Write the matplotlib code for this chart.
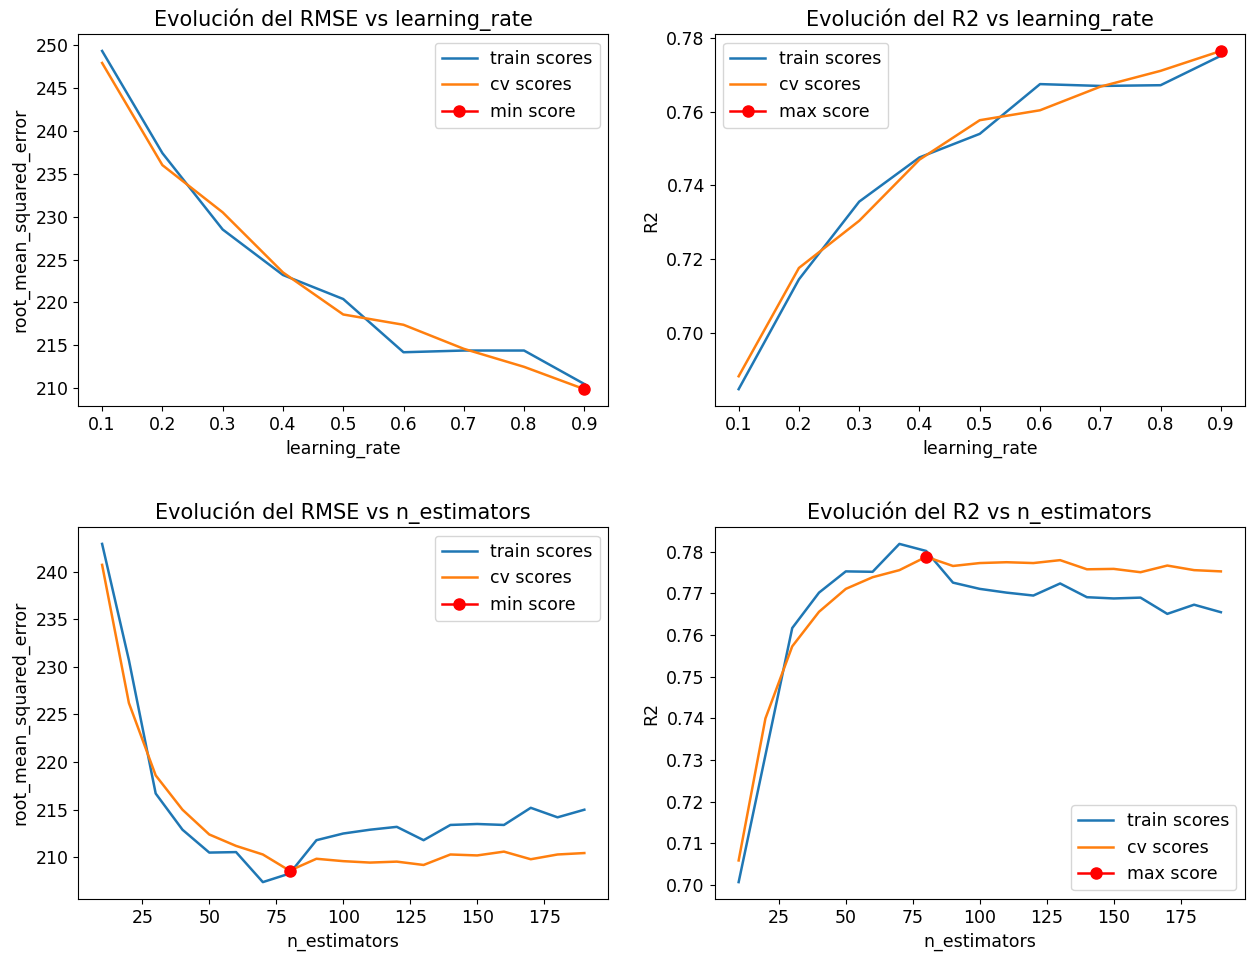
import matplotlib
matplotlib.use("Agg")
import matplotlib.pyplot as plt
import numpy as np

# resultados de la búsqueda de hiperparámetros
learning_rates = [0.1, 0.2, 0.3, 0.4, 0.5, 0.6, 0.7, 0.8, 0.9]
rmse_train_lr = [249.3, 237.4, 228.5, 223.2, 220.4, 214.2, 214.4, 214.4, 210.5]
rmse_cv_lr = [247.9, 236.0, 230.5, 223.5, 218.6, 217.4, 214.6, 212.5, 209.9]
r2_train_lr = [0.6847, 0.7145, 0.7356, 0.7476, 0.7540, 0.7675, 0.7670, 0.7672, 0.7752]
r2_cv_lr = [0.6882, 0.7176, 0.7304, 0.7470, 0.7577, 0.7604, 0.7668, 0.7711, 0.7765]

n_estimators = [10, 20, 30, 40, 50, 60, 70, 80, 90, 100,
                110, 120, 130, 140, 150, 160, 170, 180, 190]
rmse_train_ne = [242.9, 230.7, 216.7, 212.9, 210.5, 210.55, 207.4, 208.3, 211.8, 212.5,
                 212.9, 213.2, 211.8, 213.4, 213.5, 213.4, 215.2, 214.2, 215.0]
rmse_cv_ne = [240.7, 226.2, 218.6, 215.0, 212.4, 211.2, 210.3, 208.6, 209.85, 209.6,
              209.45, 209.55, 209.2, 210.3, 210.2, 210.6, 209.8, 210.3, 210.45]
r2_train_ne = [0.7007, 0.7312, 0.7617, 0.7702, 0.7753, 0.7752, 0.7819, 0.7802, 0.7726, 0.7711,
               0.7702, 0.7695, 0.7724, 0.7691, 0.7688, 0.7690, 0.7651, 0.7673, 0.7655]
r2_cv_ne = [0.7059, 0.7400, 0.7573, 0.7656, 0.7711, 0.7739, 0.7756, 0.7788, 0.7766, 0.7773,
            0.7775, 0.7773, 0.7780, 0.7758, 0.7759, 0.7751, 0.7767, 0.7756, 0.7753]


def plot_scores(ax, x, train, cv, best, title, xlabel, ylabel, loc):
    ax.plot(x, train, lw=1.8, label='train scores')
    ax.plot(x, cv, lw=1.8, label='cv scores')
    i = best(cv)
    name = 'min score' if best is np.argmin else 'max score'
    ax.plot(x[i], cv[i], marker='o', color='red', markersize=8, lw=1.8, label=name)
    ax.set_title(title, fontsize=15)
    ax.set_xlabel(xlabel, fontsize=12.5)
    ax.set_ylabel(ylabel, fontsize=12.5)
    ax.tick_params(labelsize=12.5)
    ax.legend(loc=loc, fontsize=12.5)


fig, axs = plt.subplots(2, 2, figsize=(12.52, 9.56), dpi=100)
fig.subplots_adjust(left=0.0623, right=0.9944, bottom=0.0596, top=0.9644,
                    wspace=0.2, hspace=0.325)

plot_scores(axs[0, 0], learning_rates, rmse_train_lr, rmse_cv_lr, np.argmin,
            'Evolución del RMSE vs learning_rate', 'learning_rate',
            'root_mean_squared_error', 'upper right')
plot_scores(axs[0, 1], learning_rates, r2_train_lr, r2_cv_lr, np.argmax,
            'Evolución del R2 vs learning_rate', 'learning_rate', 'R2', 'upper left')
plot_scores(axs[1, 0], n_estimators, rmse_train_ne, rmse_cv_ne, np.argmin,
            'Evolución del RMSE vs n_estimators', 'n_estimators',
            'root_mean_squared_error', 'upper right')
plot_scores(axs[1, 1], n_estimators, r2_train_ne, r2_cv_ne, np.argmax,
            'Evolución del R2 vs n_estimators', 'n_estimators', 'R2', 'lower right')

fig.savefig('out.png')
